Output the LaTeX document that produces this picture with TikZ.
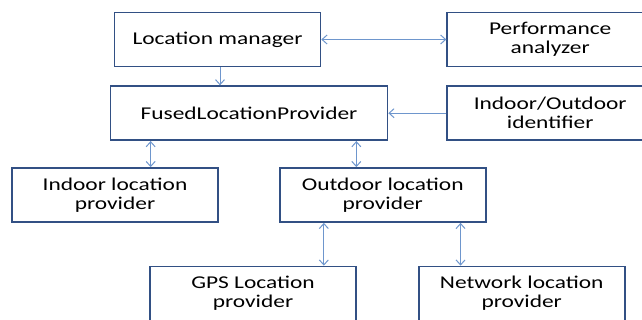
\documentclass[tikz,border=0pt]{standalone}
\usepackage{fontspec}
\setmainfont{Carlito}[FakeStretch=1.3]
\usepackage{xcolor}
\usepackage{tikz}
\usetikzlibrary{arrows.meta,positioning}

\definecolor{boxline}{RGB}{50,80,132}
\definecolor{linkline}{RGB}{110,150,205}

\begin{document}
\begin{tikzpicture}[
    x=1pt, y=1pt,
    node distance=18pt,
    unit/.style={draw=boxline, line width=1.7pt, align=center, minimum width=206pt, minimum height=54pt,
      font=\fontsize{18}{19}\selectfont},
    link/.style={draw=linkline, line width=1pt},
    >={Straight Barb[length=5pt,width=9pt]}
  ]
    \useasboundingbox (0,0) rectangle (642,-320);
    \clip (0,0) rectangle (642,-320);
    \node[unit] (manager) at (217.5,-39.5) {Location manager};
    \node[unit, right=125pt of manager] (perf) {Performance \\ analyzer};
    \node[unit, below=of perf] (ident) {Indoor/Outdoor \\ identifier};
    \node[unit, minimum width=277pt, left=58pt of ident] (fused) {FusedLocationProvider};
    \node[unit] (indoor) at (115,-195) {Indoor location \\ provider};
    \node[unit, right=60pt of indoor] (outdoor) {Outdoor location \\ provider};
    \node[unit] (gps) at (253,-293.5) {GPS Location \\ provider};
    \node[unit, right=61pt of gps] (network) {Network location \\ provider};
    \draw[link, <->] (manager) -- (perf);
    \draw[link, ->] ([xshift=2.5pt]manager.south) -- ([xshift=2.5pt]manager.south |- fused.north);
    \draw[link, ->] (ident) -- (fused);
    \draw[link, <->] ([xshift=41pt]fused.south west) -- ([xshift=41pt]fused.south west |- indoor.north);
    \draw[link, <->] ([xshift=-32pt]fused.south east) -- ([xshift=-32pt]fused.south east |- outdoor.north);
    \draw[link, <->] ([xshift=45pt]outdoor.south west) -- ([xshift=45pt]outdoor.south west |- gps.north);
    \draw[link, <->] ([xshift=-26pt]outdoor.south east) -- ([xshift=-26pt]outdoor.south east |- network.north);
  \end{tikzpicture}
\end{document}
